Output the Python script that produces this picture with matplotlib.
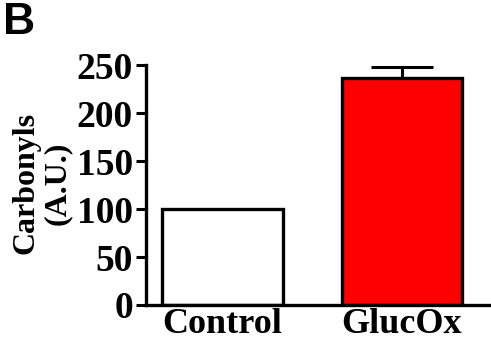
import numpy as np
import matplotlib.pyplot as plt

# data
groups = ['Control', 'GlucOx']
carbonyls = [100, 236]
err_up = [0, 12]
colors = ['white', '#ff0000']

plt.rcParams['font.family'] = 'Liberation Serif'
plt.rcParams['font.weight'] = 'bold'

fig = plt.figure(figsize=(4.91, 3.46), dpi=100)
ax = fig.add_axes([0.2974, 0.1185, 0.7026, 0.6936])

x = np.arange(len(groups))
ax.bar(x, carbonyls, width=0.67, color=colors, edgecolor='black', linewidth=2.4, zorder=2)
# only the upper half of the error bar is drawn
ax.errorbar(x[1:], carbonyls[1:], yerr=[[0], err_up[1:]], fmt='none', ecolor='black',
            elinewidth=2.2, capsize=22, capthick=2.2, zorder=1)

ax.set_xlim(-0.426, 1.496)
ax.set_ylim(0, 250)
ax.set_yticks(np.arange(0, 251, 50))
ax.set_xticks(x)
ax.set_xticklabels(groups)
ax.tick_params(axis='y', labelsize=27, width=2.2, length=7.5, pad=2)
ax.tick_params(axis='x', labelsize=26, length=0, pad=2)

for s in ['top', 'right']:
    ax.spines[s].set_visible(False)
for s in ['left', 'bottom']:
    ax.spines[s].set_linewidth(2.4)

ax.set_ylabel('Carbonyls\n(A.U.)', fontsize=23, fontweight='bold', linespacing=1.1)
ax.yaxis.set_label_coords(-0.216, 0.508)

fig.text(0.006, 0.995, 'B', fontsize=32, fontweight='bold', family='Liberation Sans',
         ha='left', va='top')

fig.savefig('out.png', dpi=100)
